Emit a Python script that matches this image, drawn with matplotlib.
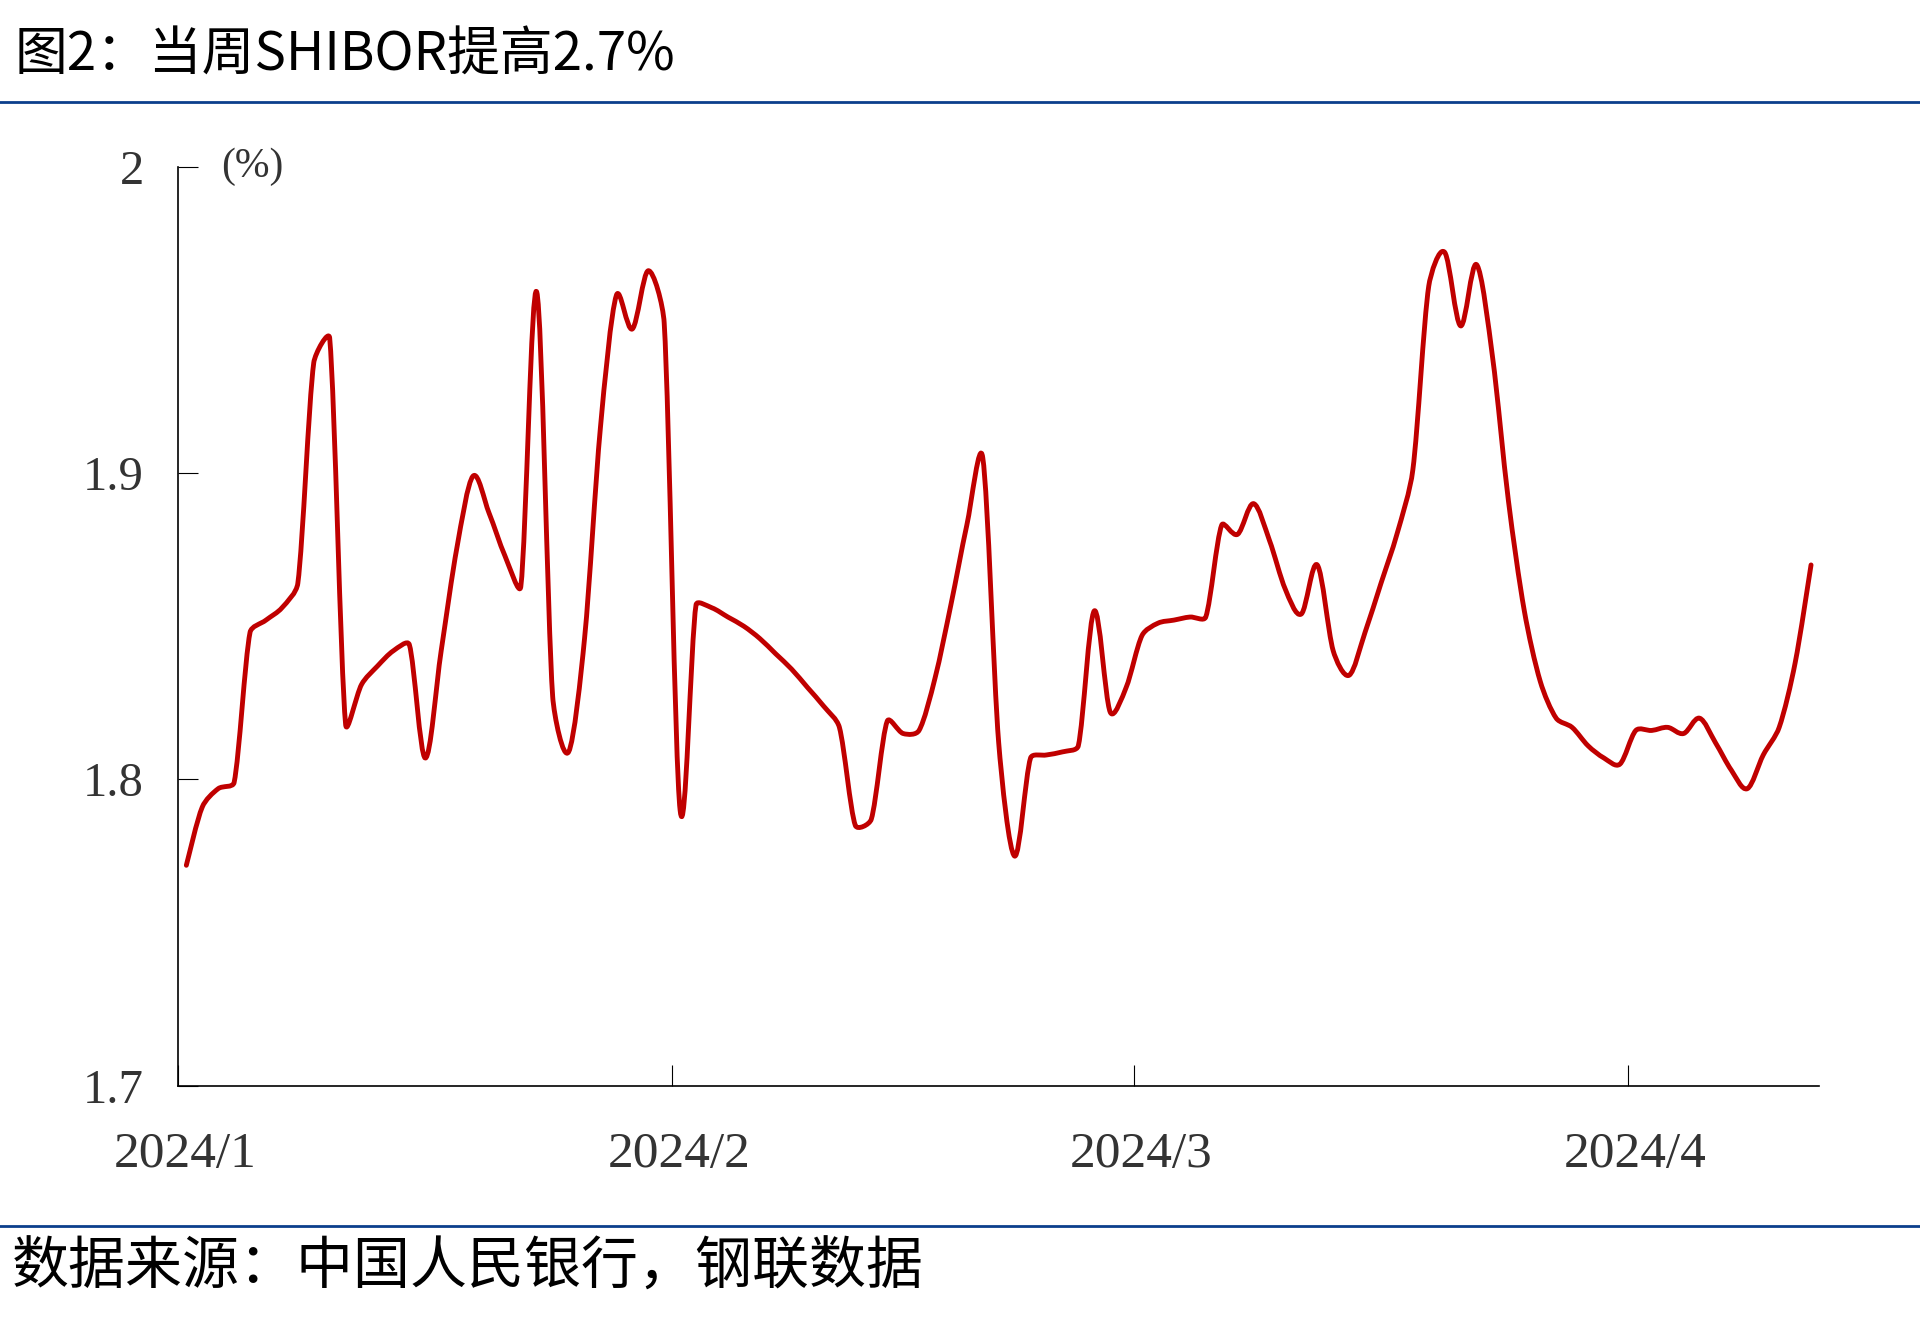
import matplotlib
matplotlib.use("Agg")
import matplotlib.pyplot as plt
import matplotlib.transforms as mtransforms
from matplotlib.path import Path
from matplotlib.patches import PathPatch
from matplotlib.lines import Line2D
import numpy as np
import pandas as pd

# ---------------- data: SHIBOR (%), daily, 2024-01-01 .. 2024-04-12
start = pd.Timestamp("2024-01-01")
dates = pd.date_range(start, "2024-04-12", freq="D")
shibor = [
    1.772, 1.791, 1.797, 1.799, 1.848, 1.852, 1.856, 1.864, 1.936, 1.944,
    1.818, 1.831, 1.837, 1.842, 1.844, 1.807, 1.842, 1.876, 1.899, 1.887,
    1.873, 1.863, 1.959, 1.827, 1.809, 1.846, 1.915, 1.958, 1.947, 1.966,
    1.949, 1.790, 1.857, 1.856, 1.853, 1.850, 1.846, 1.841, 1.836, 1.830,
    1.824, 1.817, 1.785, 1.787, 1.819, 1.815, 1.816, 1.833, 1.857, 1.883,
    1.905, 1.812, 1.775, 1.807, 1.808, 1.809, 1.811, 1.855, 1.822, 1.830,
    1.847, 1.851, 1.852, 1.853, 1.853, 1.883, 1.880, 1.890, 1.878, 1.862,
    1.854, 1.870, 1.842, 1.834, 1.848, 1.864, 1.880, 1.901, 1.961, 1.972,
    1.948, 1.968, 1.938, 1.891, 1.855, 1.832, 1.820, 1.817, 1.811, 1.807,
    1.805, 1.816, 1.816, 1.817, 1.815, 1.820, 1.812, 1.803, 1.797, 1.808,
    1.817, 1.838, 1.870,
]
month_starts = pd.to_datetime(["2024-01-01", "2024-02-01", "2024-03-01", "2024-04-01"])
month_labels = ["2024/1", "2024/2", "2024/3", "2024/4"]
y_ticks = [1.7, 1.8, 1.9, 2.0]
y_labels = ["1.7", "1.8", "1.9", "2"]

title = "图2：当周SHIBOR提高2.7%"
source = "数据来源：中国人民银行，钢联数据"

# ---------------- style
plt.rcParams["font.family"] = ["Noto Sans CJK SC", "DejaVu Sans"]
RED = "#C00000"
BLUE = "#0B3F8C"
TICK_FONT = "Liberation Serif"

fig = plt.figure(figsize=(19.2, 13.31), dpi=100)
ax = fig.add_axes([0.0929, 0.1841, 0.8545, 0.6908])
ax.set_xlim(0, 103)
ax.set_ylim(1.7, 2.0)

# each date sits in the middle of its day slot (date axis)
xs = [(d - start).days + 0.5 for d in dates]

# smoothed line (bezier through every point), tangents worked out on screen
fig.canvas.draw()
pts = ax.transData.transform(np.column_stack([xs, shibor]))
n = len(pts)
ctrl_out, ctrl_in = [], []
for i in range(n):
    prev_p = pts[max(i - 1, 0)]
    next_p = pts[min(i + 1, n - 1)]
    d = next_p - prev_p
    norm = np.hypot(*d)
    u = d / norm if norm > 0 else d
    l_out = min(norm / 6, np.hypot(*(next_p - pts[i])) / 3)
    l_in = min(norm / 6, np.hypot(*(pts[i] - prev_p)) / 3)
    ctrl_out.append(pts[i] + u * l_out)
    ctrl_in.append(pts[i] - u * l_in)
verts = [pts[0]]
codes = [Path.MOVETO]
for i in range(n - 1):
    verts += [ctrl_out[i], ctrl_in[i + 1], pts[i + 1]]
    codes += [Path.CURVE4] * 3
verts = ax.transData.inverted().transform(np.array(verts))
ax.add_patch(PathPatch(Path(verts, codes), fill=False, edgecolor=RED, lw=3.5,
                       capstyle="round", joinstyle="round"))

for side in ["top", "right"]:
    ax.spines[side].set_visible(False)
for side in ["left", "bottom"]:
    ax.spines[side].set_linewidth(1.2)
    ax.spines[side].set_color("black")

ax.set_xticks([(d - start).days for d in month_starts])
ax.set_xticklabels(month_labels)
ax.set_yticks(y_ticks)
ax.set_yticklabels(y_labels)
ax.tick_params(axis="x", direction="in", length=15, width=0.8, pad=33)
ax.tick_params(axis="y", direction="in", length=14.5, width=0.8, pad=25)
for lab in ax.get_xticklabels():
    lab.set_fontsize(37)
for lab in ax.get_yticklabels():
    lab.set_fontsize(35)
for lab in ax.get_xticklabels() + ax.get_yticklabels():
    lab.set_fontfamily(TICK_FONT)
    lab.set_color("#333333")
shift = mtransforms.ScaledTranslation(7 / 100, 0, fig.dpi_scale_trans)
for lab in ax.get_xticklabels():
    lab.set_transform(lab.get_transform() + shift)

ax.text(0.045, 1.0, "(%)", transform=ax.transAxes, ha="center", va="center",
        fontsize=30, family=TICK_FONT, color="#333333")

# header / footer
fig.text(15 / 1920, 1 - 55 / 1331, title, ha="left", va="center", fontsize=38, color="black")
fig.add_artist(Line2D([0, 1], [1 - 101.6 / 1331] * 2, transform=fig.transFigure, color=BLUE, lw=2))
fig.add_artist(Line2D([0, 1], [1 - 1225.7 / 1331] * 2, transform=fig.transFigure, color=BLUE, lw=2))
fig.text(12 / 1920, 1 - 1267 / 1331, source, ha="left", va="center", fontsize=41, color="black")

fig.savefig("out.png", dpi=100)
